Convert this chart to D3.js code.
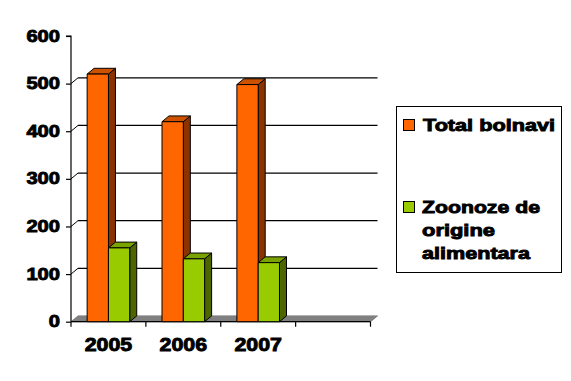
<!DOCTYPE html>
<html><head><meta charset="utf-8">
<script src="https://cdn.jsdelivr.net/npm/d3@7"></script>
<style>body{margin:0;background:#fff;}svg{display:block;}text{font-family:Arial,"Liberation Sans",sans-serif;font-weight:bold;fill:#000;stroke:#000;stroke-width:0.9px;}</style>
</head><body>
<script>
const categories = ["2005", "2006", "2007", ""];
const totalBolnavi = [520, 420, 498, null];
const zoonoze = [155, 132, 124, null];
const yTicks = [0, 100, 200, 300, 400, 500, 600];
const seriesNames = ["Total bolnavi", ["Zoonoze de", "origine", "alimentara"]];

const W = 571, H = 381;
const svg = d3.select("body").append("svg").attr("width", W).attr("height", H);
svg.append("rect").attr("width", W).attr("height", H).attr("fill", "#fff");

const x = d3.scaleBand().domain(categories).range([71, 370.5]).padding(0);
const y = d3.scaleLinear().domain([0, 600]).range([321.7, 36]);
const dx = 7, dy = -5.8;
const barW = 21.3;

// floor
const x0 = 71, x1 = 370.5, y0 = y(0);
svg.append("path")
  .attr("d", `M${x0},${y0}L${x0+dx},${y0+dy}L${x1+dx},${y0+dy}L${x1},${y0}Z`)
  .attr("fill", "#808080").attr("stroke", "#808080").attr("stroke-width", 1);

// back-wall gridlines + diagonal connectors
yTicks.filter(t => t > 0 && t < 600).forEach(t => {
  const yy = y(t);
  svg.append("line").attr("x1", x0 + dx).attr("x2", x1 + dx).attr("y1", yy + dy).attr("y2", yy + dy)
    .attr("stroke", "#000").attr("stroke-width", 1.2);
  svg.append("line").attr("x1", x0).attr("x2", x0 + dx).attr("y1", yy).attr("y2", yy + dy)
    .attr("stroke", "#000").attr("stroke-width", 1);
});

// y axis
const yAxis = d3.axisLeft(y).tickValues(yTicks).tickSize(5).tickFormat("");
const gy = svg.append("g").attr("transform", `translate(${x0},0)`).call(yAxis);
gy.selectAll("path,line").attr("stroke", "#000").attr("stroke-width", 1.2);
gy.select(".domain").attr("d", `M-5,${y(600)}H0V${y(0)}`);
yTicks.forEach(t => {
  const s = String(t);
  svg.append("text").attr("x", 60).attr("y", y(t) + 5.5)
    .attr("text-anchor", "end").attr("font-size", 17)
    .attr("textLength", s.length * 11.2).attr("lengthAdjust", "spacingAndGlyphs")
    .text(s);
});

// x axis
const xAxis = d3.axisBottom(x).tickSize(5).tickFormat("");
const gx = svg.append("g").attr("transform", `translate(0,${y0})`).call(xAxis);
gx.select(".domain").attr("d", `M${x0},0H${x1}`).attr("stroke", "#000").attr("stroke-width", 1.2);
gx.selectAll(".tick").remove();
const bounds = categories.map(c => x(c)).concat([x1]);
bounds.forEach(b => {
  svg.append("line").attr("x1", b).attr("x2", b).attr("y1", y0).attr("y2", y0 + 5)
    .attr("stroke", "#000").attr("stroke-width", 1.2);
});
categories.forEach(c => {
  if (!c) return;
  svg.append("text").attr("x", x(c) + x.bandwidth() / 2).attr("y", 350.5)
    .attr("text-anchor", "middle").attr("font-size", 18.5)
    .attr("textLength", 47.5).attr("lengthAdjust", "spacingAndGlyphs")
    .text(c);
});

// 3D bars
const series = [
  {vals: totalBolnavi, front: "#FF6600", top: "#CC5200", side: "#8A3300"},
  {vals: zoonoze, front: "#99CC00", top: "#7AA300", side: "#4D6600"}
];
const groupW = barW * series.length;
categories.forEach((c, i) => {
  series.forEach((s, k) => {
    const v = s.vals[i];
    if (v == null) return;
    const bx = x(c) + (x.bandwidth() - groupW) / 2 + k * barW;
    const by = y(v), bb = y(0);
    const g = svg.append("g").attr("stroke", "#000").attr("stroke-width", 1).attr("stroke-linejoin", "round");
    g.append("path").attr("fill", s.side)
      .attr("d", `M${bx+barW},${by}L${bx+barW+dx},${by+dy}L${bx+barW+dx},${bb+dy}L${bx+barW},${bb}Z`);
    g.append("path").attr("fill", s.top)
      .attr("d", `M${bx},${by}L${bx+dx},${by+dy}L${bx+barW+dx},${by+dy}L${bx+barW},${by}Z`);
    g.append("rect").attr("x", bx).attr("y", by).attr("width", barW).attr("height", bb - by).attr("fill", s.front);
  });
});

// legend
const lg = svg.append("g");
lg.append("rect").attr("x", 396.5).attr("y", 106.5).attr("width", 165).attr("height", 166)
  .attr("fill", "#fff").attr("stroke", "#000").attr("stroke-width", 1);
lg.append("rect").attr("x", 403.5).attr("y", 119.5).attr("width", 11).attr("height", 11)
  .attr("fill", series[0].front).attr("stroke", "#000");
lg.append("text").attr("x", 423).attr("y", 131).attr("font-size", 17)
  .attr("textLength", 132).attr("lengthAdjust", "spacingAndGlyphs").text(seriesNames[0]);
lg.append("rect").attr("x", 403.5).attr("y", 201.5).attr("width", 11).attr("height", 11)
  .attr("fill", series[1].front).attr("stroke", "#000");
const lens = [118, 73, 108];
seriesNames[1].forEach((t, j) => {
  lg.append("text").attr("x", 422).attr("y", 213.3 + j * 22.8).attr("font-size", 17)
    .attr("textLength", lens[j]).attr("lengthAdjust", "spacingAndGlyphs").text(t);
});
</script>
</body></html>
